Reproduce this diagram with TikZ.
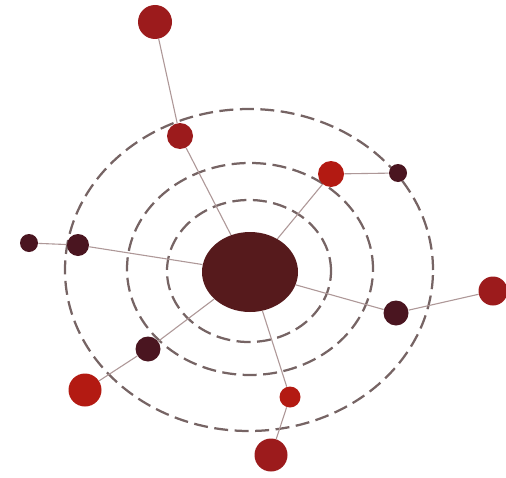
\documentclass[tikz,border=0pt]{standalone}
\usepackage{tikz}
\usetikzlibrary{shapes.geometric}
\definecolor{hubmaroon}{HTML}{561A1C}
\definecolor{darkmaroon}{HTML}{4A1520}
\definecolor{dotred}{HTML}{9C1B1C}
\definecolor{brightred}{HTML}{B31A12}
\definecolor{ringgray}{HTML}{766464}
\definecolor{linkgray}{HTML}{AE9898}

\begin{document}
\begin{tikzpicture}[x=0.2mm, y=-0.2mm,
    dot/.style={circle, inner sep=0pt, draw=none},
    dk/.style={dot, fill=darkmaroon},
    rd/.style={dot, fill=dotred},
    br/.style={dot, fill=brightred},
    ring/.style={draw=ringgray, line width=0.45mm, dash pattern=on 2.8mm off 1.3mm},
    link/.style={draw=linkgray, line width=0.22mm}
  ]
    \useasboundingbox (0,0) rectangle (506,477);

    % ── Dashed rings
    \draw[ring] (249,270) ellipse [x radius=36.8mm, y radius=32.2mm];
    \draw[ring] (250,269) ellipse [x radius=24.6mm, y radius=21.2mm];
    \draw[ring] (249,271) ellipse [x radius=16.4mm, y radius=14.2mm];

    % ── Hub
    \node[ellipse, inner sep=0pt, fill=hubmaroon, minimum width=19.2mm, minimum height=16mm] (hub) at (250,272) {};

    % ── Inner dots
    \node[rd, minimum size=5.2mm] (i1) at (180,136) {};
    \node[br, minimum size=5.2mm] (i2) at (331,174) {};
    \node[dk, minimum size=4.4mm] (i3) at (78,245) {};
    \node[dk, minimum size=5mm] (i4) at (148,349) {};
    \node[dk, minimum size=5mm] (i5) at (396,313) {};
    \node[br, minimum size=4.2mm] (i6) at (290,397) {};

    % ── Outer dots
    \node[rd, minimum size=6.8mm] (t1) at (155,22) {};
    \node[dk, minimum size=3.6mm] (t2) at (398,173) {};
    \node[dk, minimum size=3.6mm] (t3) at (29,243) {};
    \node[br, minimum size=6.6mm] (t4) at (85,390) {};
    \node[rd, minimum size=5.8mm] (t5) at (493,291) {};
    \node[rd, minimum size=6.6mm] (t6) at (271,455) {};

    % ── Spokes
    \draw[link] (hub) -- (i1);
    \draw[link] (i1) -- (t1);
    \draw[link] (hub) -- (i2);
    \draw[link] (i2) -- (t2);
    \draw[link] (hub) -- (i3);
    \draw[link] (i3) -- (t3);
    \draw[link] (hub) -- (i4);
    \draw[link] (i4) -- (t4);
    \draw[link] (hub) -- (i5);
    \draw[link] (i5) -- (t5);
    \draw[link] (hub) -- (i6);
    \draw[link] (i6) -- (t6);
  \end{tikzpicture}
\end{document}
